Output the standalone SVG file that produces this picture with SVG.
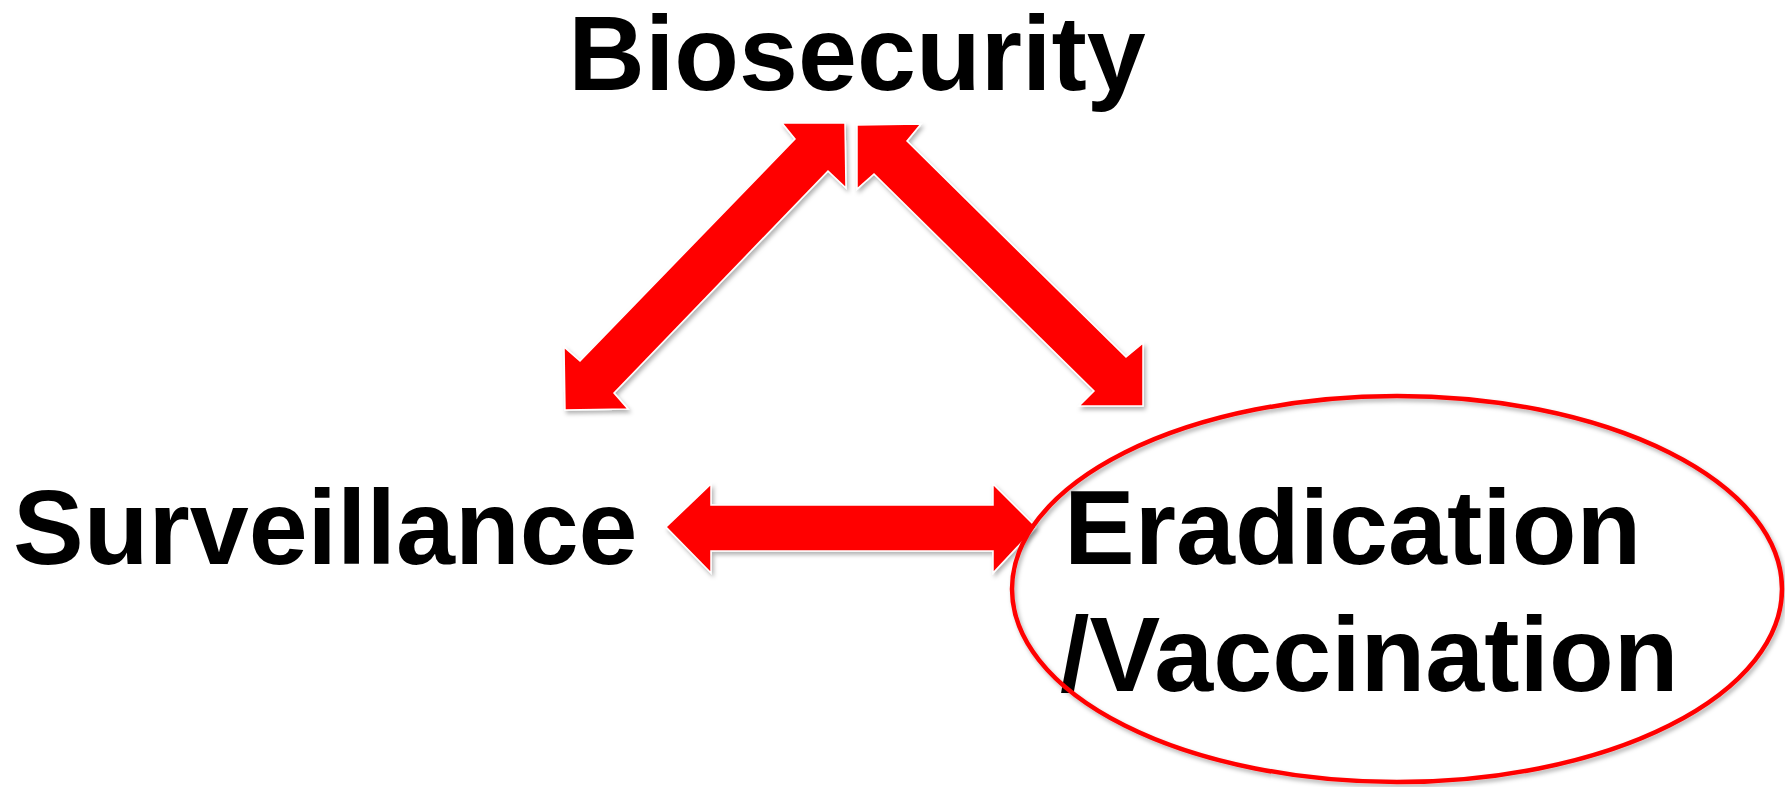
<svg xmlns="http://www.w3.org/2000/svg" width="1785" height="787" viewBox="0 0 1785 787">
<style>
.lbl{font-family:"Liberation Sans",Arial,sans-serif;font-weight:bold;font-size:106px;fill:#000}
.arrow{fill:#ff0000;stroke:#ffffff;stroke-width:1.5;stroke-linejoin:miter;filter:url(#sh)}
.ring{fill:none;stroke:#ff0000;stroke-width:4.5;filter:url(#sh)}
</style>
<defs>
<filter id="sh" x="-10%" y="-10%" width="120%" height="120%">
<feDropShadow dx="2" dy="3" stdDeviation="2" flood-color="#000" flood-opacity="0.3"/>
</filter>
</defs>
<rect width="1785" height="787" fill="#fff"/>
<g id="connectors">
<polygon class="arrow" points="845,123 846,188 828,171 614,393 628,409 565,410 564,347 580,361 795,139 782,123"/>
<polygon class="arrow" points="857,125 921,124 907,141 1126,357 1143,343 1143,406 1079,406 1094,391 874,174 857,189"/>
<polygon class="arrow" points="666,527 711,484 711,505 993,505 993,484 1036,527 993,573 993,551 711,551 711,573"/>
</g>
<g id="biosecurity"><text class="lbl" x="857" y="90" text-anchor="middle">Biosecurity</text></g>
<g id="surveillance"><text class="lbl" x="13" y="564">Surveillance</text></g>
<g id="eradication">
<text class="lbl" x="1064" y="564">Eradication</text>
<text class="lbl" x="1060" y="691">/Vaccination</text>
<ellipse class="ring" cx="1397" cy="589" rx="385" ry="193"/>
</g>
</svg>
